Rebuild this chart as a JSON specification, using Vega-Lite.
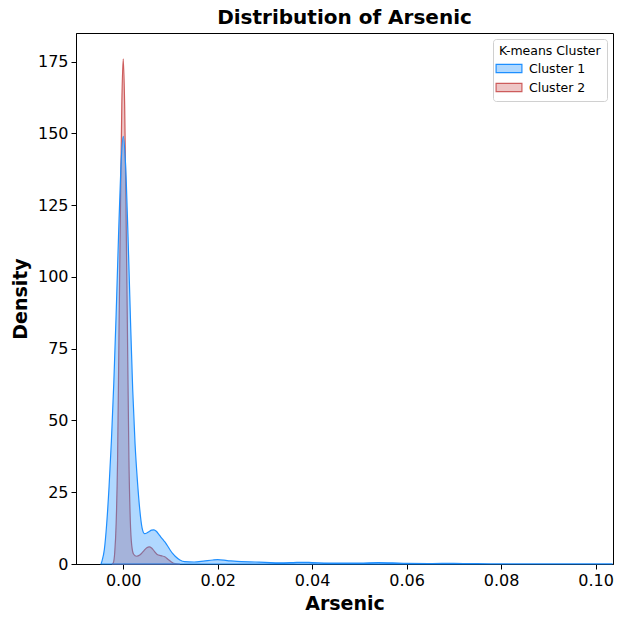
{
  "$schema": "https://vega.github.io/schema/vega-lite/v6.json",
  "width": 537,
  "height": 531,
  "autosize": {"type": "none"},
  "padding": {"left": 76, "top": 33, "right": 14, "bottom": 56},
  "background": "white",
  "config": {
    "font": "DejaVu Sans",
    "view": {"stroke": "#000000", "strokeWidth": 1},
    "axis": {"grid": false, "domainColor": "#000000", "tickColor": "#000000", "tickSize": 5, "labelColor": "#000000", "titleColor": "#000000", "labelFontSize": 16, "titleFontSize": 19, "titleFontWeight": "bold", "labelFont": "DejaVu Sans", "titleFont": "DejaVu Sans"}
  },
  "title": {"text": "Distribution of Arsenic", "fontSize": 20, "fontWeight": "bold", "font": "DejaVu Sans", "color": "#000000", "anchor": "middle", "offset": 5},
  "data": {"values": [
    {"cluster": "Cluster 2", "x": -0.0024, "d": 0},
    {"cluster": "Cluster 2", "x": -0.0021, "d": 0.4},
    {"cluster": "Cluster 2", "x": -0.0018, "d": 4},
    {"cluster": "Cluster 2", "x": -0.0015, "d": 14},
    {"cluster": "Cluster 2", "x": -0.0012, "d": 36},
    {"cluster": "Cluster 2", "x": -0.0009, "d": 80},
    {"cluster": "Cluster 2", "x": -0.0006, "d": 122},
    {"cluster": "Cluster 2", "x": -0.0003, "d": 160},
    {"cluster": "Cluster 2", "x": 0.0000, "d": 176},
    {"cluster": "Cluster 2", "x": 0.0003, "d": 160},
    {"cluster": "Cluster 2", "x": 0.0006, "d": 122},
    {"cluster": "Cluster 2", "x": 0.0009, "d": 80},
    {"cluster": "Cluster 2", "x": 0.0012, "d": 37},
    {"cluster": "Cluster 2", "x": 0.0015, "d": 15},
    {"cluster": "Cluster 2", "x": 0.0018, "d": 6.5},
    {"cluster": "Cluster 2", "x": 0.0022, "d": 3.4},
    {"cluster": "Cluster 2", "x": 0.0028, "d": 2.7},
    {"cluster": "Cluster 2", "x": 0.0035, "d": 3.1},
    {"cluster": "Cluster 2", "x": 0.0042, "d": 4.3},
    {"cluster": "Cluster 2", "x": 0.0050, "d": 5.7},
    {"cluster": "Cluster 2", "x": 0.0055, "d": 6.0},
    {"cluster": "Cluster 2", "x": 0.0060, "d": 5.6},
    {"cluster": "Cluster 2", "x": 0.0066, "d": 4.4},
    {"cluster": "Cluster 2", "x": 0.0072, "d": 3.3},
    {"cluster": "Cluster 2", "x": 0.0080, "d": 2.9},
    {"cluster": "Cluster 2", "x": 0.0088, "d": 2.5},
    {"cluster": "Cluster 2", "x": 0.0095, "d": 1.6},
    {"cluster": "Cluster 2", "x": 0.0102, "d": 0.7},
    {"cluster": "Cluster 2", "x": 0.0110, "d": 0.1},
    {"cluster": "Cluster 2", "x": 0.0120, "d": 0},
    {"cluster": "Cluster 1", "x": -0.0047, "d": 0},
    {"cluster": "Cluster 1", "x": -0.0045, "d": 1},
    {"cluster": "Cluster 1", "x": -0.0040, "d": 5},
    {"cluster": "Cluster 1", "x": -0.0035, "d": 14},
    {"cluster": "Cluster 1", "x": -0.0030, "d": 27},
    {"cluster": "Cluster 1", "x": -0.0025, "d": 43},
    {"cluster": "Cluster 1", "x": -0.0020, "d": 63},
    {"cluster": "Cluster 1", "x": -0.0015, "d": 87},
    {"cluster": "Cluster 1", "x": -0.0010, "d": 114},
    {"cluster": "Cluster 1", "x": -0.0005, "d": 138},
    {"cluster": "Cluster 1", "x": 0.0000, "d": 149},
    {"cluster": "Cluster 1", "x": 0.0005, "d": 139},
    {"cluster": "Cluster 1", "x": 0.0010, "d": 115},
    {"cluster": "Cluster 1", "x": 0.0015, "d": 87},
    {"cluster": "Cluster 1", "x": 0.0020, "d": 61},
    {"cluster": "Cluster 1", "x": 0.0025, "d": 42},
    {"cluster": "Cluster 1", "x": 0.0030, "d": 29},
    {"cluster": "Cluster 1", "x": 0.0035, "d": 19},
    {"cluster": "Cluster 1", "x": 0.0040, "d": 12.5},
    {"cluster": "Cluster 1", "x": 0.0045, "d": 10.6},
    {"cluster": "Cluster 1", "x": 0.0050, "d": 10.8},
    {"cluster": "Cluster 1", "x": 0.0055, "d": 11.3},
    {"cluster": "Cluster 1", "x": 0.0060, "d": 11.8},
    {"cluster": "Cluster 1", "x": 0.0065, "d": 11.9},
    {"cluster": "Cluster 1", "x": 0.0070, "d": 11.4},
    {"cluster": "Cluster 1", "x": 0.0075, "d": 10.4},
    {"cluster": "Cluster 1", "x": 0.0080, "d": 9.3},
    {"cluster": "Cluster 1", "x": 0.0085, "d": 8.3},
    {"cluster": "Cluster 1", "x": 0.0090, "d": 7.3},
    {"cluster": "Cluster 1", "x": 0.0095, "d": 6.0},
    {"cluster": "Cluster 1", "x": 0.0100, "d": 4.7},
    {"cluster": "Cluster 1", "x": 0.0105, "d": 3.6},
    {"cluster": "Cluster 1", "x": 0.0110, "d": 2.7},
    {"cluster": "Cluster 1", "x": 0.0120, "d": 1.4},
    {"cluster": "Cluster 1", "x": 0.0130, "d": 0.8},
    {"cluster": "Cluster 1", "x": 0.0150, "d": 0.7},
    {"cluster": "Cluster 1", "x": 0.0170, "d": 1.0},
    {"cluster": "Cluster 1", "x": 0.0190, "d": 1.4},
    {"cluster": "Cluster 1", "x": 0.0200, "d": 1.5},
    {"cluster": "Cluster 1", "x": 0.0220, "d": 1.2},
    {"cluster": "Cluster 1", "x": 0.0250, "d": 0.8},
    {"cluster": "Cluster 1", "x": 0.0280, "d": 0.7},
    {"cluster": "Cluster 1", "x": 0.0300, "d": 0.6},
    {"cluster": "Cluster 1", "x": 0.0330, "d": 0.4},
    {"cluster": "Cluster 1", "x": 0.0360, "d": 0.5},
    {"cluster": "Cluster 1", "x": 0.0380, "d": 0.6},
    {"cluster": "Cluster 1", "x": 0.0400, "d": 0.5},
    {"cluster": "Cluster 1", "x": 0.0450, "d": 0.3},
    {"cluster": "Cluster 1", "x": 0.0500, "d": 0.3},
    {"cluster": "Cluster 1", "x": 0.0540, "d": 0.5},
    {"cluster": "Cluster 1", "x": 0.0570, "d": 0.4},
    {"cluster": "Cluster 1", "x": 0.0600, "d": 0.2},
    {"cluster": "Cluster 1", "x": 0.0650, "d": 0.15},
    {"cluster": "Cluster 1", "x": 0.0700, "d": 0.25},
    {"cluster": "Cluster 1", "x": 0.0750, "d": 0.1},
    {"cluster": "Cluster 1", "x": 0.0800, "d": 0.05},
    {"cluster": "Cluster 1", "x": 0.0900, "d": 0.02},
    {"cluster": "Cluster 1", "x": 0.1035, "d": 0.01}
  ]},
  "mark": {"type": "area", "fillOpacity": 0.35, "strokeWidth": 1.2, "strokeOpacity": 1, "interpolate": "monotone"},
  "encoding": {
    "x": {"field": "x", "type": "quantitative", "title": "Arsenic",
          "scale": {"domain": [-0.0100, 0.1037], "nice": false, "zero": false},
          "axis": {"values": [0, 0.02, 0.04, 0.06, 0.08, 0.1], "format": ".2f", "labelPadding": 3, "titlePadding": 6}},
    "y": {"field": "d", "type": "quantitative", "title": "Density", "stack": null,
          "scale": {"domain": [0, 185], "nice": false},
          "axis": {"values": [0, 25, 50, 75, 100, 125, 150, 175], "labelPadding": 3, "titlePadding": 7}},
    "color": {"field": "cluster", "type": "nominal",
              "scale": {"domain": ["Cluster 1", "Cluster 2"], "range": ["#1e8fff", "#cd5c5c"]},
              "legend": {"title": "K-means Cluster", "orient": "top-right", "offset": 6,
                         "fillColor": "white", "strokeColor": "#d0d0d0", "cornerRadius": 3, "padding": 6,
                         "titleFontSize": 12.5, "titleFontWeight": "normal", "titleColor": "#000000", "titleFont": "DejaVu Sans", "titlePadding": 1,
                         "labelFontSize": 12.5, "labelColor": "#000000", "labelFont": "DejaVu Sans",
                         "symbolType": "M-1.4,-0.45H1.4V0.45H-1.4Z", "symbolSize": 340, "symbolStrokeWidth": 1.2,
                         "rowPadding": 2, "labelOffset": 10,
                         "encoding": {"symbols": {
                           "fillOpacity": {"value": 0.35},
                           "stroke": {"condition": {"test": "datum.value === 'Cluster 1'", "value": "#1e8fff"}, "value": "#cd5c5c"},
                           "strokeWidth": {"value": 1.2},
                           "strokeOpacity": {"value": 1},
                           "opacity": {"value": 1}}}}},
    "stroke": {"field": "cluster", "type": "nominal",
               "scale": {"domain": ["Cluster 1", "Cluster 2"], "range": ["#1e8fff", "#cd5c5c"]},
               "legend": null}
  }
}
